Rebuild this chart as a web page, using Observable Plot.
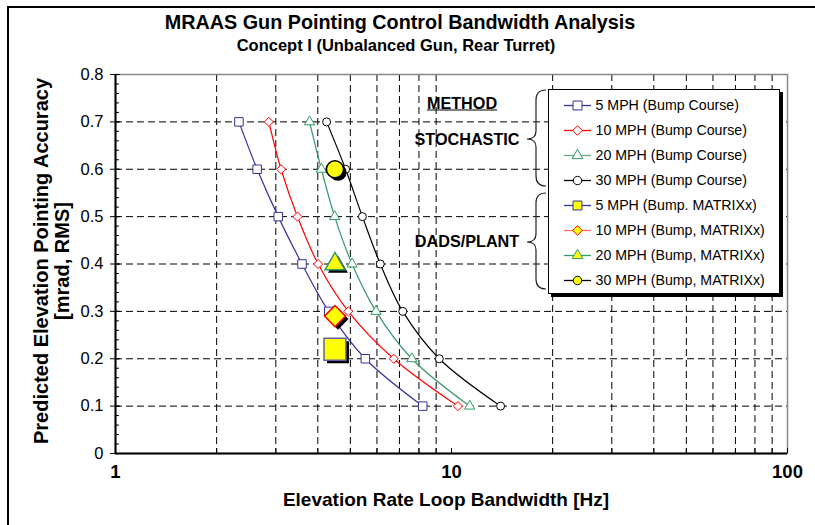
<!DOCTYPE html>
<html>
<head>
<meta charset="utf-8">
<script src="https://cdn.jsdelivr.net/npm/d3@7"></script>
<script src="https://cdn.jsdelivr.net/npm/@observablehq/plot@0.6"></script>
<style>
  html, body { margin: 0; padding: 0; background: #fff; }
  body { font-family: "Liberation Sans", Arial, sans-serif; }
  #wrap { position: relative; width: 815px; height: 525px; overflow: hidden; }
  #frame { position: absolute; left: 7px; top: 6px; width: 830px; height: 540px; border-left: 2px solid #000; border-top: 2px solid #000; }
  #chart { position: absolute; left: 0; top: 0; }
  .t { position: absolute; white-space: nowrap; font-weight: bold; color: #000; }
  #legend { position: absolute; left: 548px; top: 89px; width: 230px; height: 203px; border: 1px solid #000; background: #fff; box-shadow: 3px 3px 0 #000; }
  #braces { position: absolute; left: 0; top: 0; }
</style>
</head>
<body>
<div id="wrap">
  <div id="frame"></div>
  <div id="chart"></div>
  <div class="t" style="left:400px;top:22px;transform:translate(-50%,-50%);font-size:19.8px;">MRAAS Gun Pointing Control Bandwidth Analysis</div>
  <div class="t" style="left:396px;top:45px;transform:translate(-50%,-50%);font-size:16.5px;">Concept I (Unbalanced Gun, Rear Turret)</div>
  <div class="t" style="left:52px;top:261px;transform:translate(-50%,-50%) rotate(-90deg);font-size:20px;text-align:center;line-height:21px;">Predicted Elevation Pointing Accuracy<br>[mrad, RMS]</div>
  <div class="t" style="left:446px;top:500px;transform:translate(-50%,-50%);font-size:19px;">Elevation Rate Loop Bandwidth [Hz]</div>
  <div class="t" style="left:462px;top:103px;transform:translate(-50%,-50%);font-size:16.2px;text-decoration:underline;">METHOD</div>
  <div class="t" style="left:467px;top:139px;transform:translate(-50%,-50%);font-size:16.2px;">STOCHASTIC</div>
  <div class="t" style="left:467px;top:241px;transform:translate(-50%,-50%);font-size:16.2px;">DADS/PLANT</div>
  <svg id="braces" width="815" height="525">
    <path d="M546,90 Q536,90 536,100 L536,131 Q536,139 527,139 Q536,139 536,147 L536,176 Q536,186 546,186" fill="none" stroke="#222" stroke-width="1.2"/>
    <path d="M546,193 Q536,193 536,203 L536,234 Q536,242 527,242 Q536,242 536,250 L536,279 Q536,289 546,289" fill="none" stroke="#222" stroke-width="1.2"/>
  </svg>
  <div id="legend"></div>
</div>
<script>
// ---- data ----
const speeds = ["5 MPH", "10 MPH", "20 MPH", "30 MPH"];
const accuracy = [0.7, 0.6, 0.5, 0.4, 0.3, 0.2, 0.1];           // mrad RMS
const bw5  = [2.33, 2.64, 3.05, 3.59, 4.31, 5.54, 8.21];        // Hz
const bw10 = [2.86, 3.11, 3.48, 4.01, 4.93, 6.73, 10.45];
const bw20 = [3.78, 4.10, 4.49, 5.06, 5.96, 7.62, 11.33];
const bw30 = [4.25, 4.84, 5.43, 6.14, 7.16, 9.20, 14.0];
const dadsBw  = [4.5, 4.5, 4.5, 4.5];
const dadsAcc = [0.22, 0.29, 0.40, 0.60];
const legendLabels = [
  "5 MPH (Bump Course)", "10 MPH (Bump Course)", "20 MPH (Bump Course)", "30 MPH (Bump Course)",
  "5 MPH (Bump. MATRIXx)", "10 MPH (Bump, MATRIXx)", "20 MPH (Bump, MATRIXx)", "30 MPH (Bump, MATRIXx)"
];
const yTicks = [0, 0.1, 0.2, 0.3, 0.4, 0.5, 0.6, 0.7, 0.8];
const yGrid = [0.1, 0.2, 0.3, 0.4, 0.5, 0.6, 0.7];
const yMinor = d3.range(0, 0.8001, 0.02);
const xGrid = [2, 3, 4, 5, 6, 7, 8, 9, 20, 30, 40, 50, 60, 70, 80, 90];
const xLabels = [1, 10, 100];

// ---- styles ----
const colors = ["#333399", "#FF0000", "#339966", "#000000"];
const symbols = ["square", "diamond2", "triangle", "circle"];
const smallR = [4.8, 4.1, 3.8, 4];
const bigR = [12.4, 9.5, 7.4, 8.6];
const bigStroke = ["#6060A8", "#FF0000", "#339966", "#000000"];
const legendLine = ["#333399", "#FF0000", "#66AA88", "#000000", "#333399", "#FF6666", "#339966", "#000000"];

const bwSeries = [bw5, bw10, bw20, bw30];
const stoch = speeds.map((s, i) => accuracy.map((a, j) => ({speed: s, bw: bwSeries[i][j], acc: a})));
const dads = speeds.map((s, i) => ({speed: s, bw: dadsBw[i], acc: dadsAcc[i]}));

const fmt = d => d === 0 ? "0" : d.toFixed(1);
const dash = "7,4";

const marks = [
  Plot.gridY(yGrid, {stroke: "#000", strokeOpacity: 1, strokeDasharray: dash, strokeWidth: 1}),
  Plot.gridX(xGrid, {stroke: "#000", strokeOpacity: 1, strokeDasharray: dash, strokeWidth: 1}),
  Plot.frame({stroke: "#888", strokeWidth: 1.5}),
  Plot.ruleX([1], {stroke: "#000", strokeWidth: 2}),
  Plot.ruleY([0], {stroke: "#000", strokeWidth: 2}),
  Plot.axisY(yTicks, {tickSize: 0, tickPadding: 12, tickFormat: fmt, fontSize: 16.5, label: null}),
  Plot.axisY(yTicks, {tickSize: 10, dx: 5, text: null, label: null, stroke: "#000"}),
  Plot.axisY(yMinor, {tickSize: 4, dx: 4, text: null, label: null, stroke: "#000"}),
  Plot.axisX(xGrid.concat(xLabels), {tickSize: 5, dy: -5, text: null, label: null, stroke: "#000"}),
  Plot.axisX(xLabels, {tickSize: 0, tickPadding: 11, tickFormat: d => String(d), fontSize: 18.5, fontWeight: "bold", label: null})
];
stoch.forEach((rows, i) => {
  marks.push(Plot.line(rows, {x: "bw", y: "acc", stroke: colors[i], strokeWidth: 1.2, curve: "catmull-rom"}));
});
stoch.forEach((rows, i) => {
  marks.push(Plot.dot(rows, {x: "bw", y: "acc", symbol: () => symbols[i], r: smallR[i], fill: "#fff", stroke: colors[i], strokeWidth: 1}));
});
dads.forEach((d, i) => {
  marks.push(Plot.dot([d], {x: "bw", y: "acc", symbol: () => symbols[i], r: bigR[i], fill: "#000", dx: 3, dy: 3}));
  marks.push(Plot.dot([d], {x: "bw", y: "acc", symbol: () => symbols[i], r: bigR[i], fill: "#FFFF00", stroke: bigStroke[i], strokeWidth: 1.5}));
});

const chart = Plot.plot({
  width: 815, height: 525,
  marginLeft: 115, marginRight: 28, marginTop: 74, marginBottom: 72,
  x: {type: "log", domain: [1, 100]},
  y: {domain: [0, 0.8]},
  symbol: {type: "identity"},
  style: {fontFamily: "'Liberation Sans', Arial, sans-serif", color: "#000", background: "transparent", overflow: "visible"},
  marks
});
document.getElementById("chart").appendChild(chart);

// ---- legend ----
const legendRows = legendLabels.map((label, k) => ({label, k, s: k % 4, matrix: k >= 4}));
const lmarks = [
  Plot.ruleY(legendRows, {y: "label", stroke: d => legendLine[d.k], insetLeft: 15, insetRight: 188, strokeWidth: 1.3}),
  Plot.dot(legendRows, {y: "label", frameAnchor: "left", dx: 28, symbol: d => symbols[d.s], r: d => smallR[d.s] * 1.05,
    fill: d => d.matrix ? "#FFFF00" : "#fff", stroke: d => colors[d.s], strokeWidth: 1}),
  Plot.text(legendRows, {y: "label", text: "label", frameAnchor: "left", dx: 46, textAnchor: "start", fontSize: 14.2, fill: "#000"})
];
const legend = Plot.plot({
  width: 230, height: 203,
  marginLeft: 0, marginRight: 0, marginTop: 14, marginBottom: 12,
  y: {type: "point", domain: legendLabels, padding: 0, axis: null},
  symbol: {type: "identity"},
  r: {type: "identity"},
  style: {fontFamily: "'Liberation Sans', Arial, sans-serif", background: "transparent"},
  marks: lmarks
});
document.getElementById("legend").appendChild(legend);
</script>
</body>
</html>
